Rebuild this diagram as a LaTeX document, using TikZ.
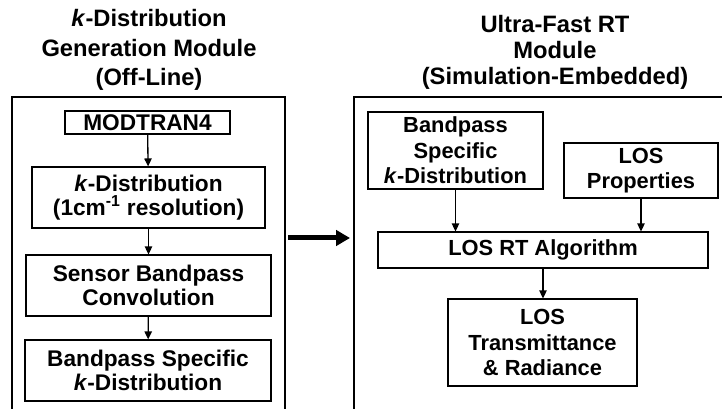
\documentclass[tikz,border=0pt]{standalone}
\usepackage{fontspec}
\setmainfont{Liberation Sans}
\usetikzlibrary{arrows.meta}
\begin{document}
\begin{tikzpicture}[x=0.75pt,y=-0.75pt,
  frame/.style={draw=black,line width=0.8pt},
  lbox/.style={draw=black,line width=0.8pt,inner sep=0pt,align=center,
    font=\fontsize{17}{18}\selectfont\bfseries},
  rbox/.style={draw=black,line width=0.8pt,inner sep=0pt,align=center,
    font=\fontsize{16.4}{19}\selectfont\bfseries},
  ltitle/.style={inner sep=0pt,align=center,font=\fontsize{17.8}{22}\selectfont\bfseries},
  rtitle/.style={inner sep=0pt,align=center,font=\fontsize{17.8}{19.5}\selectfont\bfseries},
  flow/.style={line width=1pt,-{Triangle[length=6pt,width=5.5pt]}},
  bigarrow/.style={line width=3.75pt,-{Triangle[length=10.5pt,width=11.5pt]}}]
\useasboundingbox (0,0) rectangle (722,409);
% titles
\node[ltitle] (lt) at (149,50) {\textit{k}-Distribution\\Generation Module\\(Off-Line)};
\node[rtitle] (rtt) at (555,52) {Ultra-Fast RT\\Module\\(Simulation-Embedded)};
% frames
\draw[frame] (12,412) -- (12,97) -- (285,97) -- (285,412);
\draw[frame] (354,412) -- (354,97) -- (725,97);
% left boxes
\node[lbox,minimum width=123.75pt,minimum height=17.25pt] (mod) at (147.5,122.5) {MODTRAN4};
\node[lbox,minimum width=174.75pt,minimum height=45.75pt] (kd) at (148.5,197.5) {\textit{k}-Distribution\\(1cm\textsuperscript{-1} resolution)};
\node[lbox,minimum width=183.75pt,minimum height=45.75pt] (sbc) at (148.5,285.5) {Sensor Bandpass\\Convolution};
\node[lbox,minimum width=184.5pt,minimum height=45.75pt] (bsk) at (148,370.5) {Bandpass Specific\\\textit{k}-Distribution};
% right boxes
\node[rbox,minimum width=131.25pt,minimum height=57.75pt] (rbsk) at (455.5,150.5) {Bandpass\\Specific\\\textit{k}-Distribution};
\node[rbox,minimum width=115.5pt,minimum height=41.25pt] (losp) at (641,170.5) {LOS\\Properties};
\node[rbox,minimum width=247.5pt,minimum height=27pt] (rt) at (543,250) {LOS RT Algorithm};
\node[rbox,minimum width=141.75pt,minimum height=65.25pt] (lost) at (542.5,342.5) {LOS\\Transmittance\\\& Radiance};
% connectors
\draw[flow] (mod) -- (kd);
\draw[flow] (kd) -- (sbc);
\draw[flow] (sbc) -- (bsk);
\draw[flow] (rbsk.south) -- (rbsk.south |- rt.north);
\draw[flow] (losp.south) -- (losp.south |- rt.north);
\draw[flow] (rt.south) -- (rt.south |- lost.north);
\coordinate (ba1) at (288,238);
\coordinate (ba2) at (350,238);
\draw[bigarrow] (ba1) -- (ba2);
\end{tikzpicture}
\end{document}
